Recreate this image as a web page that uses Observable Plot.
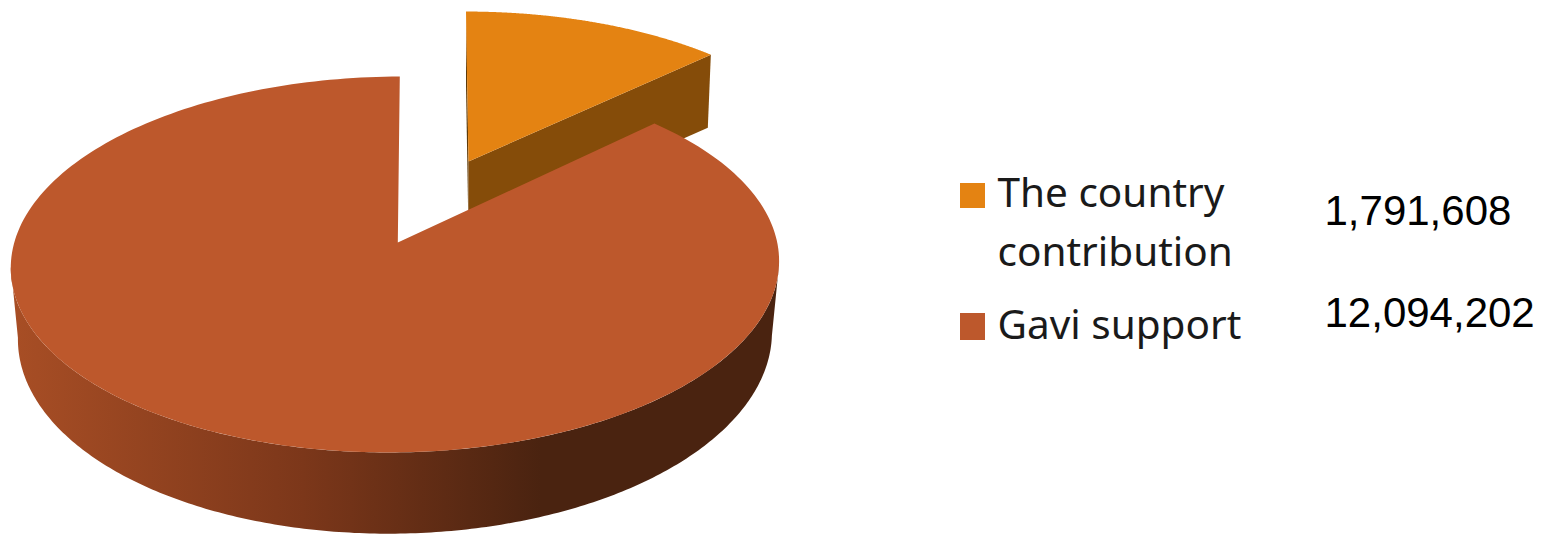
<!DOCTYPE html>
<html>
<head>
<meta charset="utf-8">
<script src="https://cdn.jsdelivr.net/npm/d3@7"></script>
<script src="https://cdn.jsdelivr.net/npm/@observablehq/plot@0.6"></script>
<style>
  html, body { margin: 0; padding: 0; background: #fff; }
  svg { display: block; }
</style>
</head>
<body>
<script>
// Funding shares
const categories = ["The country contribution", "Gavi support"];
const amounts = [1791608, 12094202];
const amountLabels = ["1,791,608", "12,094,202"];
const labelLines = [["The country", "contribution"], ["Gavi support"]];
const topColors = ["#E48312", "#BD582C"];

const width = 1547, height = 534;

// Perspective discs: a slice sits on a top face and a bottom face.
// cx, cy: pie centre; a, b: half axes; k: foreshortening; s, t: skew of the axes.
const tilt = 0.117;
const discs = {
  mainTop:     {cx: 395, cy: 242, a: 381.5, b: 185.4, k: tilt, s: -4.8, t: -1, px: 397.3},
  mainBottom:  {cx: 395, cy: 312, a: 374.4, b: 195.3, k: tilt, s: -4.8, t: -1, px: 397.3},
  sliceTop:    {cx: 468, cy: 161, a: 364, b: 167.5, k: tilt, s: 2.8, t: 0, px: 468},
  sliceBottom: {cx: 468, cy: 233, a: 359.5, b: 165.7, k: tilt, s: 2.8, t: 0, px: 468}
};

const project = (d, angle) => {
  const u = Math.sin(angle), v = -Math.cos(angle), w = 1 - d.k * v;
  return {x: d.cx + (d.a * u + d.s * v) / w, y: d.cy + (d.b * v + d.t * u) / w};
};
const arc = (d, t0, t1, n = 240) =>
  d3.range(n + 1).map((i) => project(d, t0 + (t1 - t0) * i / n));
const apex = (d) => ({x: d.px, y: d.cy});

// Slices run clockwise from twelve o'clock
const [slice, main] = d3.pie().sort(null)(amounts);

const rad = (deg) => deg * Math.PI / 180;
const sideStart = rad(97), sideEnd = rad(263);

const shape = (points, fill) => Plot.line(points, {x: "x", y: "y", fill, stroke: "none"});

// Gradient for the rim of the large slice
const rimGradient = () => {
  const svg = d3.create("svg:defs");
  const g = svg.append("linearGradient").attr("id", "rim").attr("x1", 0).attr("x2", 1).attr("y1", 0).attr("y2", 0);
  g.append("stop").attr("offset", 0).attr("stop-color", "#A84E25");
  g.append("stop").attr("offset", 0.38).attr("stop-color", "#7C371A");
  g.append("stop").attr("offset", 0.69).attr("stop-color", "#4A2310");
  g.append("stop").attr("offset", 1).attr("stop-color", "#4A2310");
  return svg.node();
};

const sliceEnd = project(discs.sliceTop, slice.endAngle);
const sliceEndLow = project(discs.sliceBottom, slice.endAngle);
const sliceBack = project(discs.sliceTop, slice.startAngle);
const sliceBackLow = project(discs.sliceBottom, slice.startAngle);

const swatches = categories.map((name, i) => ({name, color: topColors[i], row: i}));
const swatchY = [[183, 208], [313, 340]];
const swatchX = [960, 985];

const legendText = [
  {text: labelLines[0][0], y: 206},
  {text: labelLines[0][1], y: 265},
  {text: labelLines[1][0], y: 338}
];
const valueText = [
  {text: amountLabels[0], y: 224},
  {text: amountLabels[1], y: 326}
];

const chart = Plot.plot({
  width, height,
  margin: 0,
  style: {background: "#fff"},
  x: {domain: [0, width], range: [0, width], axis: null},
  y: {domain: [0, height], range: [0, height], axis: null},
  marks: [
    rimGradient,
    // detached slice: two cut faces, then its top
    shape([sliceBack, apex(discs.sliceTop), apex(discs.sliceBottom), sliceBackLow], "#5E3A08"),
    shape([apex(discs.sliceTop), sliceEnd, sliceEndLow, apex(discs.sliceBottom)], "#854C09"),
    shape([apex(discs.sliceTop), ...arc(discs.sliceTop, slice.startAngle, slice.endAngle)], topColors[0]),
    // large slice: rim, then its top
    shape([...arc(discs.mainTop, sideStart, sideEnd), ...arc(discs.mainBottom, sideEnd, sideStart)], "url(#rim)"),
    shape([apex(discs.mainTop), ...arc(discs.mainTop, main.startAngle, main.endAngle)], topColors[1]),
    // legend
    Plot.rect(swatches, {
      x1: () => swatchX[0], x2: () => swatchX[1],
      y1: (d) => swatchY[d.row][0], y2: (d) => swatchY[d.row][1],
      fill: "color"
    }),
    Plot.text(legendText, {
      x: () => 997, y: "y", text: "text", textAnchor: "start", lineAnchor: "bottom",
      fontFamily: "Noto Sans", fontSize: 40.5, fill: "#1a1a1a"
    }),
    Plot.text(valueText, {
      x: () => 1324, y: "y", text: "text", textAnchor: "start", lineAnchor: "bottom",
      fontFamily: "Liberation Sans", fontSize: 42, fill: "#000"
    })
  ]
});
document.body.append(chart);
</script>
</body>
</html>
